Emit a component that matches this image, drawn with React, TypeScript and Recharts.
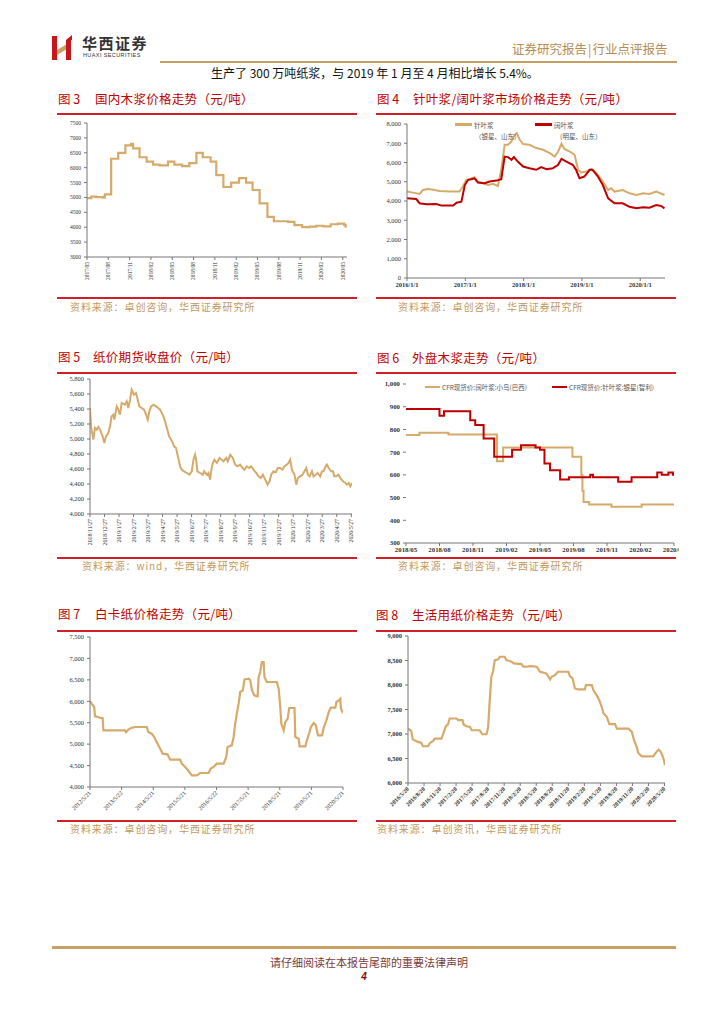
import React from "react";
import { LineChart, Line, XAxis, YAxis } from "recharts";

const TAN = "#D6AA6A";
const RED = "#C00000";
const RULE = "#D21F26";
const GOLD = "#C9A063";
const SERIF = "'Liberation Serif', 'DejaVu Serif', serif";
const CJK = "'Noto Sans CJK SC', 'Noto Sans', sans-serif";

// fig 3: domestic pulp, months from 2017/05
const pulpT = [0, 0.6, 1.3, 2.25, 2.5, 3.4, 4.4, 5.4, 6.2, 6.5, 7.4, 8.4, 9.3, 10.2, 11.4, 12.3, 13.4, 14.4, 15.4, 16.3, 17.4, 18.2, 19.2, 20.3, 21.4, 22.4, 23.3, 24.3, 25.4, 26.3, 27.4, 28.3, 29.2, 30.3, 31.4, 32.3, 33.2, 34.3, 35.3, 36.2, 36.4];
const pulpV = [4980, 5030, 5010, 4990, 5100, 6300, 6500, 6750, 6800, 6650, 6350, 6200, 6100, 6080, 6200, 6100, 6050, 6150, 6500, 6350, 6200, 5750, 5350, 5500, 5650, 5500, 5250, 4800, 4350, 4200, 4200, 4180, 4070, 4000, 4020, 4050, 4030, 4100, 4120, 4080, 3980];
const pulpTicks = [0, 3, 6, 9, 12, 15, 18, 21, 24, 27, 30, 33, 36];
const pulpLabels = ["2017/05", "2017/08", "2017/11", "2018/02", "2018/05", "2018/08", "2018/11", "2019/02", "2019/05", "2019/08", "2019/11", "2020/02", "2020/05"];

// fig 4: softwood / hardwood, months from 2016/1
const softT = [0, 1.2, 2.6, 3.3, 4.3, 5.7, 6.7, 8.8, 10.8, 11.5, 12.2, 12.9, 13.9, 14.6, 15.6, 16.7, 17.7, 18.7, 19.4, 20.1, 20.8, 21.5, 22.2, 22.6, 23.2, 23.9, 25.2, 26.6, 28.0, 29.4, 30.4, 31.1, 31.8, 32.4, 33.5, 34.5, 35.2, 35.9, 36.9, 37.9, 39.0, 40.3, 41.4, 42.0, 42.7, 44.4, 45.8, 47.2, 48.6, 49.9, 51.3, 53.0];
const softV = [4490, 4435, 4365, 4570, 4625, 4570, 4520, 4490, 4490, 4750, 5100, 5130, 5230, 5010, 4920, 4830, 4890, 4780, 5620, 6920, 6920, 7100, 7440, 7530, 7180, 6960, 6920, 6750, 6660, 6490, 6310, 6570, 6970, 6700, 6570, 6400, 5620, 5480, 5530, 5650, 5440, 5010, 4570, 4660, 4490, 4570, 4400, 4310, 4400, 4365, 4490, 4310];
const hardT = [0, 1.9, 2.6, 4.0, 6.0, 7.1, 9.5, 10.2, 11.2, 11.9, 12.6, 13.2, 13.9, 14.6, 16.0, 17.0, 18.4, 19.4, 20.1, 20.8, 21.5, 22.0, 22.8, 23.9, 25.2, 26.6, 27.6, 28.7, 30.0, 31.1, 31.8, 32.8, 34.1, 34.8, 35.5, 36.5, 37.6, 38.2, 39.3, 40.3, 41.4, 42.7, 44.4, 45.8, 47.2, 48.6, 49.9, 51.3, 52.3, 53.0];
const hardV = [4140, 4100, 3880, 3830, 3840, 3760, 3760, 3910, 3960, 4830, 5100, 5130, 5180, 4960, 4920, 5010, 5060, 5130, 6310, 6280, 6140, 6280, 6050, 5790, 5700, 5620, 5760, 5650, 5700, 5880, 6190, 6050, 5880, 5620, 5180, 5270, 5620, 5620, 5270, 4830, 4140, 3880, 3880, 3700, 3620, 3670, 3650, 3790, 3740, 3620];
const marketTicks = [0, 12, 24, 36, 48];
const marketLabels = ["2016/1/1", "2017/1/1", "2018/1/1", "2019/1/1", "2020/1/1"];

// fig 5: futures close, months from 2018/11/27
const futT = [0.00, 0.07, 0.23, 0.34, 0.46, 0.57, 0.69, 0.87, 0.99, 1.10, 1.26, 1.38, 1.49, 1.61, 1.68, 1.84, 1.95, 2.07, 2.18, 2.41, 2.53, 2.64, 2.76, 2.87, 3.03, 3.17, 3.26, 3.40, 3.56, 3.72, 3.86, 3.98, 4.09, 4.21, 4.37, 4.55, 4.71, 4.83, 5.06, 5.17, 5.33, 5.45, 5.59, 5.70, 5.79, 5.93, 6.05, 6.21, 6.32, 6.48, 6.67, 6.85, 7.01, 7.13, 7.24, 7.31, 7.40, 7.59, 7.77, 7.86, 8.05, 8.16, 8.28, 8.34, 8.46, 8.57, 8.74, 8.92, 9.08, 9.20, 9.38, 9.49, 9.66, 9.84, 10.00, 10.16, 10.34, 10.51, 10.64, 10.80, 10.97, 11.10, 11.26, 11.45, 11.61, 11.77, 11.91, 12.07, 12.23, 12.37, 12.48, 12.64, 12.80, 12.94, 13.10, 13.26, 13.40, 13.56, 13.68, 13.79, 13.91, 14.09, 14.21, 14.32, 14.48, 14.64, 14.83, 14.90, 15.01, 15.13, 15.29, 15.40, 15.56, 15.68, 15.86, 15.98, 16.09, 16.23, 16.32, 16.44, 16.60, 16.74, 16.83, 16.97, 17.13, 17.24, 17.43, 17.59, 17.70, 17.82, 17.93, 18.05];
const futV = [5413, 5169, 4991, 5147, 5124, 5160, 5124, 5036, 4947, 5036, 5080, 5169, 5302, 5324, 5258, 5435, 5391, 5324, 5480, 5458, 5502, 5413, 5524, 5658, 5591, 5613, 5547, 5435, 5413, 5391, 5324, 5258, 5369, 5435, 5458, 5435, 5413, 5391, 5302, 5235, 5124, 5036, 4991, 4947, 4902, 4880, 4769, 4636, 4591, 4569, 4547, 4524, 4569, 4724, 4791, 4724, 4569, 4547, 4524, 4569, 4524, 4547, 4458, 4569, 4680, 4724, 4680, 4747, 4724, 4702, 4747, 4702, 4791, 4747, 4658, 4636, 4658, 4613, 4591, 4636, 4613, 4636, 4591, 4547, 4502, 4480, 4524, 4458, 4391, 4436, 4524, 4569, 4556, 4613, 4613, 4591, 4636, 4658, 4680, 4724, 4591, 4524, 4391, 4480, 4502, 4524, 4591, 4613, 4524, 4502, 4569, 4502, 4524, 4547, 4502, 4569, 4569, 4636, 4658, 4613, 4569, 4569, 4502, 4502, 4524, 4480, 4436, 4413, 4391, 4413, 4369, 4413];
const futTicks = [0, 1, 2, 3, 4, 5, 6, 7, 8, 9, 10, 11, 12, 13, 14, 15, 16, 17, 18];
const futLabels = ["2018/11/27", "2018/12/27", "2019/1/27", "2019/2/27", "2019/3/27", "2019/4/27", "2019/5/27", "2019/6/27", "2019/7/27", "2019/8/27", "2019/9/27", "2019/10/27", "2019/11/27", "2019/12/27", "2020/1/27", "2020/2/27", "2020/3/27", "2020/4/27", "2020/5/27"];

// fig 6: CFR import pulp, months from 2018/05
const birdT = [0, 1.2, 3.8, 8.15, 8.7, 14.9, 15.7, 15.8, 15.9, 16.4, 18.4, 21.1, 24];
const birdV = [775, 785, 778, 660, 720, 680, 600, 530, 480, 470, 460, 470, 470];
const starT = [0, 3.0, 3.4, 5.75, 6.2, 6.95, 7.9, 9.5, 10.3, 11.6, 12.0, 12.4, 12.9, 13.8, 14.6, 16.5, 16.75, 19.0, 20.2, 22.5, 22.9, 23.5, 23.9, 24.0];
const starV = [890, 860, 880, 840, 820, 760, 680, 710, 730, 720, 710, 650, 620, 580, 590, 600, 590, 570, 590, 610, 600, 610, 600, 600];
const cfrTicks = [0, 3, 6, 9, 12, 15, 18, 21, 24];
const cfrLabels = ["2018/05", "2018/08", "2018/11", "2019/02", "2019/05", "2019/08", "2019/11", "2020/02", "2020/05"];

// fig 7: ivory board, months from 2012/5/21
const boardT = [0, 0.6, 1.6, 1.9, 3.2, 3.8, 4.8, 5.1, 13.3, 13.7, 14.6, 15.8, 17.1, 21.5, 22.2, 23.4, 24.3, 25.3, 26.3, 27.6, 29.4, 30.4, 34.2, 34.8, 36.1, 37.4, 38.6, 40.5, 41.8, 45.0, 45.8, 46.9, 48.1, 50.7, 51.7, 52.2, 53.8, 54.5, 55.1, 55.7, 56.4, 57.0, 58.0, 58.6, 60.2, 60.8, 61.4, 62.3, 63.6, 64.0, 64.6, 65.2, 65.9, 66.2, 67.1, 70.9, 71.6, 72.2, 72.6, 73.5, 74.1, 75.0, 75.6, 77.6, 77.9, 79.2, 79.5, 81.7, 82.3, 83.3, 83.8, 84.9, 85.7, 86.5, 88.0, 88.7, 89.7, 90.6, 91.4, 93.1, 93.5, 94.4, 95.0, 95.2, 96.0];
const boardV = [6007, 5945, 5867, 5650, 5630, 5610, 5610, 5320, 5320, 5280, 5340, 5380, 5400, 5400, 5280, 5245, 5170, 5050, 4933, 4778, 4762, 4638, 4638, 4545, 4467, 4373, 4272, 4272, 4327, 4327, 4428, 4467, 4545, 4545, 4700, 4933, 4972, 5167, 5478, 5711, 5945, 6217, 6256, 6512, 6528, 6489, 6271, 6139, 6115, 6567, 6683, 6917, 6917, 6567, 6450, 6450, 6294, 5867, 5478, 5322, 5517, 5594, 5843, 5843, 5167, 5128, 4950, 4950, 5090, 5283, 5400, 5493, 5439, 5205, 5205, 5384, 5556, 5750, 5850, 5850, 5983, 6022, 6060, 5828, 5727];
const boardTicks = [0, 12, 24, 36, 48, 60, 72, 84, 96];
const boardLabels = ["2012/5/21", "2013/5/22", "2014/5/21", "2015/5/21", "2016/5/22", "2017/5/21", "2018/5/21", "2019/5/21", "2020/5/21"];

// fig 8: tissue paper, months from 2016/5/20
const tissueT = [0, 0.6, 0.9, 1.9, 2.5, 2.8, 3.75, 4.1, 4.7, 5.0, 6.25, 6.6, 7.1, 7.5, 7.8, 9.1, 9.4, 10.2, 10.4, 10.9, 11.6, 11.9, 13.4, 13.9, 14.7, 15.0, 15.3, 15.6, 15.9, 16.25, 16.9, 17.2, 18.1, 18.4, 19.4, 19.8, 21.25, 21.6, 22.2, 22.8, 24.1, 24.7, 25.9, 26.6, 26.9, 27.5, 28.1, 30.0, 30.3, 30.8, 31.25, 31.9, 33.1, 33.3, 34.4, 34.7, 35.3, 35.8, 36.25, 36.6, 37.2, 37.7, 38.75, 39.1, 41.25, 41.9, 42.3, 42.8, 43.1, 43.75, 45.9, 46.25, 46.9, 47.3, 47.7, 47.9, 48.1];
const tissueV = [7111, 7064, 6886, 6839, 6818, 6750, 6750, 6818, 6859, 6907, 6907, 7009, 7159, 7200, 7316, 7316, 7282, 7282, 7193, 7159, 7145, 7077, 7077, 6995, 6995, 7145, 7691, 8168, 8270, 8509, 8523, 8577, 8577, 8509, 8475, 8441, 8427, 8373, 8373, 8386, 8373, 8270, 8236, 8114, 8168, 8202, 8270, 8270, 8182, 8134, 7930, 7909, 7909, 7998, 7998, 7895, 7793, 7691, 7555, 7418, 7350, 7200, 7200, 7111, 7111, 7043, 6873, 6736, 6614, 6545, 6545, 6600, 6682, 6636, 6532, 6464, 6361];
const tissueTicks = [0, 3, 6, 9, 12, 15, 18, 21, 24, 27, 30, 33, 36, 39, 42, 45, 48];
const tissueLabels = ["2016/5/20", "2016/8/20", "2016/11/20", "2017/2/20", "2017/5/20", "2017/8/20", "2017/11/20", "2018/2/20", "2018/5/20", "2018/8/20", "2018/11/20", "2019/2/20", "2019/5/20", "2019/8/20", "2019/11/20", "2020/2/20", "2020/5/20"];

const comma = (v: number) => v.toLocaleString("en-US");
const plain = (v: number) => String(v);
const range = (a: number, b: number, s: number) => {
  const out: number[] = [];
  for (let x = a; x <= b; x += s) out.push(x);
  return out;
};

type SeriesDef = { name: string; t: number[]; v: number[]; color: string; width?: number; step?: boolean };

type PanelProps = {
  left: number; top: number; plotW: number; plotH: number;
  xH: number; yW?: number; mTop?: number; mRight?: number; clipRight?: number;
  yDomain: [number, number]; yTicks: number[]; yFmt: (v: number) => string; yFs: number; yBold?: boolean; yLine?: boolean;
  xDomain: [number, number]; xTicks: number[]; xLabels: string[]; xAngle: number; xFs: number; xBold?: boolean;
  series: SeriesDef[];
};

function Panel(p: PanelProps) {
  const yW = p.yW ?? 32;
  const mTop = p.mTop ?? 6;
  const mRight = p.mRight ?? 8;
  const width = yW + p.plotW + mRight;
  const height = mTop + p.plotH + p.xH;
  const x0 = p.left - yW;

  const xTick = (props: any) => {
    const { x, y, payload } = props;
    const label = p.xLabels[p.xTicks.indexOf(payload.value)] ?? "";
    const common = { fontSize: p.xFs, fontFamily: SERIF, fill: "#333", fontWeight: p.xBold ? 700 : 400 };
    if (p.xAngle === 0) {
      return <text x={x} y={y} dy={p.xFs * 0.8} textAnchor="middle" {...common}>{label}</text>;
    }
    return (
      <g transform={`translate(${x},${y + 1})`}>
        <text transform={`rotate(${p.xAngle})`} textAnchor="end" dy={p.xFs * 0.35} {...common}>{label}</text>
      </g>
    );
  };

  return (
    <div style={{ position: "absolute", left: x0, top: p.top - mTop, width: p.clipRight ? p.clipRight - x0 : width, height, overflow: "hidden" }}>
      <LineChart width={width} height={height} margin={{ top: mTop, right: mRight, left: 0, bottom: 0 }}>
        <XAxis type="number" dataKey="t" domain={p.xDomain} ticks={p.xTicks} interval={0} allowDataOverflow
          height={p.xH} tickSize={3} tickMargin={1} tick={xTick} stroke="#777" />
        <YAxis type="number" dataKey="v" domain={p.yDomain} ticks={p.yTicks} interval={0} allowDataOverflow
          width={yW} tickSize={3} tickMargin={3} axisLine={p.yLine !== false} stroke="#777"
          tickFormatter={p.yFmt}
          tick={{ fontSize: p.yFs, fontFamily: SERIF, fill: "#333", fontWeight: p.yBold ? 700 : 400 }} />
        {p.series.map((s) => (
          <Line key={s.name} name={s.name} data={s.t.map((t, i) => ({ t, v: s.v[i] }))} dataKey="v"
            type={s.step ? "stepAfter" : "linear"} stroke={s.color} strokeWidth={s.width ?? 2.2}
            dot={false} isAnimationActive={false} />
        ))}
      </LineChart>
    </div>
  );
}

function Title({ x, textX, y, num, text }: { x: number; textX: number; y: number; num: string; text: string }) {
  return (
    <>
      <div style={{ position: "absolute", left: x, top: y - 8, fontSize: 12.5, lineHeight: "16px", color: RED, fontFamily: CJK, whiteSpace: "nowrap" }}>{num}</div>
      <div style={{ position: "absolute", left: textX, top: y - 8, fontSize: 12.5, lineHeight: "16px", color: RED, fontFamily: CJK, whiteSpace: "nowrap", letterSpacing: 0.3 }}>{text}</div>
    </>
  );
}

function Rule({ x, y, w }: { x: number; y: number; w: number }) {
  return <div style={{ position: "absolute", left: x, top: y - 1, width: w, height: 2, background: RULE }} />;
}

function Source({ x, y, text }: { x: number; y: number; text: string }) {
  return (
    <div style={{ position: "absolute", left: x, top: y - 7, fontSize: 10, lineHeight: "14px", color: "#C39A5C", fontFamily: CJK, whiteSpace: "nowrap", letterSpacing: 0.9 }}>{text}</div>
  );
}

function Swatch({ x, y, w, color, label, sub, subX }: { x: number; y: number; w: number; color: string; label: string; sub?: string; subX?: number }) {
  return (
    <>
      <div style={{ position: "absolute", left: x, top: y - 1.2, width: w, height: 2.4, background: color }} />
      <div style={{ position: "absolute", left: x + w + 2, top: y - 5, fontSize: 6.5, lineHeight: "10px", color: "#555", fontFamily: CJK, whiteSpace: "nowrap" }}>{label}</div>
      {sub && <div style={{ position: "absolute", left: subX, top: y + 6, fontSize: 6.5, lineHeight: "10px", color: "#555", fontFamily: CJK, whiteSpace: "nowrap" }}>{sub}</div>}
    </>
  );
}

export default function App() {
  return (
    <div style={{ position: "absolute", left: 0, top: 0, width: 724, height: 1024, background: "#fff", overflow: "hidden" }}>
      {/* header */}
      <svg style={{ position: "absolute", left: 52, top: 35 }} width={22} height={25} viewBox="0 0 22 25">
        <rect x={0} y={1} width={5} height={24} fill="#C8161D" />
        <polygon points="5,15 15,9 15,14 5,20" fill="#C9A063" />
        <rect x={14} y={5} width={5} height={20} fill="#C8161D" />
        <polygon points="14,5 20,0 20,5" fill="#C8161D" />
      </svg>
      <div style={{ position: "absolute", left: 82, top: 34, fontSize: 15, lineHeight: "18px", fontWeight: 700, color: "#333", fontFamily: CJK, letterSpacing: 1.5, whiteSpace: "nowrap" }}>华西证券</div>
      <div style={{ position: "absolute", left: 83, top: 52, fontSize: 5.5, lineHeight: "7px", color: "#333", fontFamily: "'Liberation Sans', sans-serif", letterSpacing: 0.4, whiteSpace: "nowrap" }}>HUAXI SECURITIES</div>
      <div style={{ position: "absolute", left: 512, top: 41, fontSize: 12.5, lineHeight: "16px", color: "#B58C55", fontFamily: CJK, whiteSpace: "nowrap" }}>证券研究报告<span style={{ margin: "0 1px" }}>|</span>行业点评报告</div>
      <div style={{ position: "absolute", left: 160, top: 61, width: 517, height: 2, background: GOLD }} />
      <div style={{ position: "absolute", left: 211, top: 65, fontSize: 12, lineHeight: "16px", color: "#111", fontFamily: CJK, whiteSpace: "nowrap" }}>生产了 300 万吨纸浆，与 2019 年 1 月至 4 月相比增长 5.4%。</div>

      {/* figure 3 */}
      <Title x={58} textX={95} y={99} num="图 3" text="国内木浆价格走势（元/吨）" />
      <Rule x={57} y={114} w={300} />
      <Panel left={87} top={123} plotW={260} plotH={134} xH={36}
        yDomain={[3000, 7500]} yTicks={range(3000, 7500, 500)} yFmt={plain} yFs={5.5}
        xDomain={[0, 36.6]} xTicks={pulpTicks} xLabels={pulpLabels} xAngle={-90} xFs={5.5}
        series={[{ name: "国内木浆", t: pulpT, v: pulpV, color: TAN, step: true, width: 2.2 }]} />
      <Rule x={57} y={298} w={300} />
      <Source x={70} y={307} text="资料来源：卓创咨询，华西证券研究所" />

      {/* figure 4 */}
      <Title x={377} textX={413} y={99} num="图 4" text="针叶浆/阔叶浆市场价格走势（元/吨）" />
      <Rule x={376} y={114} w={300} />
      <Panel left={407} top={124} plotW={258} plotH={154} xH={16}
        yDomain={[0, 8000]} yTicks={range(0, 8000, 1000)} yFmt={comma} yFs={6.5}
        xDomain={[0, 53.1]} xTicks={marketTicks} xLabels={marketLabels} xAngle={0} xFs={6.5} xBold
        series={[
          { name: "针叶浆", t: softT, v: softV, color: TAN, width: 2 },
          { name: "阔叶浆", t: hardT, v: hardV, color: RED, width: 2 },
        ]} />
      <Swatch x={455} y={124.5} w={17} color={TAN} label="针叶浆" sub="（银星、山东）" subX={475} />
      <Swatch x={535} y={124.5} w={17} color={RED} label="阔叶浆" sub="（明星、山东）" subX={556} />
      <Rule x={376} y={298} w={300} />
      <Source x={398} y={307} text="资料来源：卓创咨询，华西证券研究所" />

      {/* figure 5 */}
      <Title x={58} textX={93} y={357} num="图 5" text="纸价期货收盘价（元/吨）" />
      <Rule x={57} y={373} w={300} />
      <Panel left={90} top={379} plotW={262} plotH={135} xH={42}
        yDomain={[4000, 5800]} yTicks={range(4000, 5800, 200)} yFmt={comma} yFs={6.5}
        xDomain={[0, 18.05]} xTicks={futTicks} xLabels={futLabels} xAngle={-90} xFs={5.8}
        series={[{ name: "纸浆期货", t: futT, v: futV, color: TAN, width: 2 }]} />
      <Rule x={57} y={558} w={300} />
      <Source x={82} y={566} text="资料来源：wind，华西证券研究所" />

      {/* figure 6 */}
      <Title x={377} textX={412} y={358} num="图 6" text="外盘木浆走势（元/吨）" />
      <Rule x={376} y={373} w={300} />
      <Panel left={406} top={384} plotW={268} plotH={159} xH={16} clipRight={679}
        yDomain={[300, 1000]} yTicks={range(300, 1000, 100)} yFmt={comma} yFs={6.8} yBold yLine={false}
        xDomain={[0, 24]} xTicks={cfrTicks} xLabels={cfrLabels} xAngle={0} xFs={6.8} xBold
        series={[
          { name: "CFR现货价:阔叶浆:小鸟(巴西)", t: birdT, v: birdV, color: TAN, step: true, width: 2 },
          { name: "CFR现货价:针叶浆:银星(智利)", t: starT, v: starV, color: RED, step: true, width: 2 },
        ]} />
      <Swatch x={425} y={387} w={15} color={TAN} label="CFR现货价:阔叶浆:小鸟(巴西)" />
      <Swatch x={552} y={387} w={15} color={RED} label="CFR现货价:针叶浆:银星(智利)" />
      <Rule x={376} y={558} w={300} />
      <Source x={398} y={566} text="资料来源：卓创咨询，华西证券研究所" />

      {/* figure 7 */}
      <Title x={58} textX={95} y={614} num="图 7" text="白卡纸价格走势（元/吨）" />
      <Rule x={57} y={631} w={300} />
      <Panel left={90} top={637} plotW={253} plotH={150} xH={36}
        yDomain={[4000, 7500]} yTicks={range(4000, 7500, 500)} yFmt={comma} yFs={6.5}
        xDomain={[0, 96]} xTicks={boardTicks} xLabels={boardLabels} xAngle={-45} xFs={6}
        series={[{ name: "白卡纸", t: boardT, v: boardV, color: TAN, width: 2.2 }]} />
      <Rule x={57} y={821} w={300} />
      <Source x={70} y={829} text="资料来源：卓创咨询，华西证券研究所" />

      {/* figure 8 */}
      <Title x={376} textX={412} y={615} num="图 8" text="生活用纸价格走势（元/吨）" />
      <Rule x={376} y={631} w={300} />
      <Panel left={408} top={636} plotW={257} plotH={147} xH={36}
        yDomain={[6000, 9000]} yTicks={range(6000, 9000, 500)} yFmt={comma} yFs={6.5} yBold
        xDomain={[0, 48.1]} xTicks={tissueTicks} xLabels={tissueLabels} xAngle={-45} xFs={6} xBold
        series={[{ name: "生活用纸", t: tissueT, v: tissueV, color: TAN, width: 2.2 }]} />
      <Rule x={376} y={821} w={300} />
      <Source x={377} y={829} text="资料来源：卓创资讯，华西证券研究所" />

      {/* footer */}
      <div style={{ position: "absolute", left: 52, top: 946, width: 624, height: 2.5, background: GOLD }} />
      <div style={{ position: "absolute", left: 169, width: 400, top: 955, textAlign: "center", fontSize: 11, lineHeight: "14px", color: "#7B3A3A", fontFamily: CJK }}>请仔细阅读在本报告尾部的重要法律声明</div>
      <div style={{ position: "absolute", left: 344, width: 40, top: 971, textAlign: "center", fontSize: 10, lineHeight: "12px", fontWeight: 700, color: "#7A1010", fontFamily: "'Liberation Sans', sans-serif", fontStyle: "italic" }}>4</div>
    </div>
  );
}
